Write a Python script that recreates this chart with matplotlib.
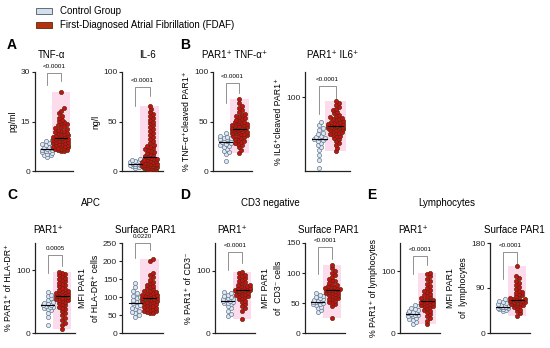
# Cytokine / PAR1 dot plots: control group vs first-diagnosed AF
import numpy as np
import matplotlib
matplotlib.use('Agg')
import matplotlib.pyplot as plt
from matplotlib.patches import Rectangle
import matplotlib.transforms as mtransforms

plt.rcParams['font.family'] = ['Liberation Sans', 'DejaVu Sans']

# ---- data ----
tnf_ctrl = [4.2, 4.8, 5.0, 5.3, 5.6, 5.8, 6.0, 6.2, 6.4, 6.5, 6.7, 6.9, 7.1, 7.3, 7.6, 7.9, 8.2, 8.6, 9.0, 9.4]
tnf_fdaf = [6.0, 6.2, 6.3, 6.5, 6.6, 6.8, 7.0, 7.1, 7.2, 7.4, 7.5, 7.7, 7.8, 8.0, 8.1, 8.3, 8.4, 8.6, 8.7, 8.9,
            9.0, 9.2, 9.3, 9.5, 9.6, 9.8, 9.9, 10.1, 10.2, 10.4, 10.6, 10.8, 11.0, 11.2, 11.4, 11.6, 11.8, 12.0,
            12.2, 12.4, 12.7, 12.9, 13.2, 13.5, 13.8, 14.1, 14.4, 14.8, 15.2, 15.6, 16.2, 16.8, 17.5, 18.3, 19.0, 24.0]

il6_ctrl = [3.5, 4.5, 5, 5.5, 6, 6.3, 6.6, 7, 7.2, 7.5, 7.8, 8.2, 8.6, 9, 9.5, 10, 10.5, 11, 12]
il6_fdaf = [1.5, 2, 2.2, 2.5, 3, 3.2, 3.5, 4, 4.2, 4.5, 5, 5.2, 5.5, 6, 6.2, 6.5, 7, 7.2, 7.5, 8, 8.5, 9, 9.5,
            10, 10.5, 11, 11.5, 12, 12.5, 13, 14, 15, 16, 17, 18, 19, 20, 21, 22, 23, 24, 25, 26, 28, 30, 32,
            34, 36, 38, 40, 42, 44, 46, 48, 50, 52, 54, 56, 58, 60, 63, 66]

tnfpar_ctrl = [10, 17, 19, 20, 22, 24, 25, 26, 27, 28, 29, 30, 31, 31, 32, 32, 33, 33, 34, 35, 38]
tnfpar_fdaf = [18, 21, 24, 26, 27, 28, 29, 30, 31, 32, 33, 34, 35, 35, 36, 37, 37, 38, 38, 39, 39, 40, 40, 41,
               41, 42, 42, 42, 43, 43, 44, 44, 45, 45, 46, 46, 47, 48, 48, 49, 50, 51, 52, 53, 54, 55, 56, 57,
               58, 60, 62, 64, 66, 69, 73]

il6par_ctrl = [4, 15, 22, 28, 32, 35, 38, 40, 42, 43, 44, 45, 46, 48, 50, 52, 55, 58, 62, 66]
il6par_fdaf = [27, 31, 35, 38, 41, 43, 45, 47, 48, 49, 50, 51, 52, 53, 54, 55, 56, 57, 57, 58, 58, 59, 59, 60,
               60, 61, 61, 62, 62, 63, 63, 64, 64, 65, 66, 67, 68, 69, 70, 71, 72, 73, 74, 76, 78, 80, 82, 84,
               86, 89, 92, 95]

apc_pct_ctrl = [13, 25, 32, 36, 38, 40, 41, 42, 43, 44, 45, 46, 48, 50, 52, 55, 58, 61, 65]
apc_pct_fdaf = [6, 12, 16, 20, 24, 28, 32, 35, 38, 40, 42, 44, 46, 48, 50, 51, 52, 53, 54, 55, 56, 57, 58, 59,
                60, 61, 62, 63, 64, 65, 66, 67, 68, 70, 72, 74, 76, 78, 80, 82, 84, 86, 88, 90, 92, 94, 95, 97]

apc_mfi_ctrl = [45, 50, 55, 58, 62, 66, 70, 75, 78, 82, 85, 88, 92, 96, 100, 104, 110, 118, 128, 140]
apc_mfi_fdaf = [55, 56, 58, 60, 62, 64, 66, 68, 70, 72, 74, 76, 78, 80, 82, 84, 85, 86, 88, 90, 92, 94, 95, 96,
                97, 98, 100, 101, 102, 104, 105, 106, 108, 110, 112, 114, 116, 118, 121, 124, 127, 130, 134,
                138, 142, 148, 155, 162, 168, 200, 205]

cd3_pct_ctrl = [27, 30, 36, 40, 44, 46, 48, 49, 50, 51, 52, 53, 54, 55, 56, 58, 60, 62, 64, 66]
cd3_pct_fdaf = [22, 36, 40, 44, 47, 50, 52, 54, 56, 58, 59, 60, 61, 62, 63, 64, 65, 66, 67, 68, 68, 69, 70, 70,
                71, 72, 73, 74, 75, 76, 77, 78, 80, 82, 84, 86, 88, 90, 92, 94, 96, 98]

cd3_mfi_ctrl = [35, 38, 41, 44, 46, 48, 49, 50, 51, 52, 53, 54, 55, 56, 58, 60, 62, 64, 66]
cd3_mfi_fdaf = [25, 45, 48, 50, 52, 54, 56, 57, 58, 60, 62, 63, 64, 65, 66, 67, 68, 69, 70, 71, 72, 72, 73, 74,
                75, 76, 77, 78, 80, 82, 84, 86, 88, 90, 93, 96, 100, 104, 108, 113]

lym_pct_ctrl = [15, 18, 21, 23, 25, 27, 28, 29, 30, 31, 32, 33, 34, 35, 37, 39, 41, 43, 45]
lym_pct_fdaf = [14, 20, 24, 28, 31, 34, 36, 38, 40, 42, 43, 44, 45, 46, 47, 48, 49, 50, 51, 52, 53, 54, 55, 56,
                58, 60, 62, 64, 66, 68, 70, 73, 76, 80, 84, 88, 92, 95, 97]

lym_mfi_ctrl = [44, 46, 48, 49, 50, 51, 52, 52, 53, 53, 54, 55, 56, 57, 58, 60, 62, 65, 68]
lym_mfi_fdaf = [35, 40, 44, 47, 50, 52, 54, 56, 57, 58, 59, 60, 61, 62, 63, 64, 65, 66, 67, 68, 69, 70, 72, 74,
                76, 78, 80, 82, 85, 88, 92, 96, 100, 105, 110, 115, 135]

p_values = ['<0.0001', '<0.0001', '<0.0001', '<0.0001', '0.0005', '0.0220',
            '<0.0001', '<0.0001', '<0.0001', '<0.0001']

W, H = 550, 348
fig = plt.figure(figsize=(W / 100, H / 100), dpi=100)

CTRL_FACE, CTRL_EDGE = '#dfe8f3', '#66788f'
FDAF_FACE, FDAF_EDGE = '#c8101a', '#5b2c06'
BAND = '#fcdcec'


def px_axes(x0, yt, x1, yb):
    return fig.add_axes([x0 / W, 1 - yb / H, (x1 - x0) / W, (yb - yt) / H])


def swarm_offsets(ax, vals, d, max_px):
    # beeswarm in pixel space, capped at +-max_px; returned as x offsets in data units
    tr = ax.transData.transform
    ppu = tr((1, 0))[0] - tr((0, 0))[0]
    ys = tr(np.column_stack([np.zeros(len(vals)), vals]))[:, 1]
    step = d * 0.5
    cands = [0.0]
    k = 1
    while k * step <= max_px:
        cands += [k * step, -k * step]
        k += 1
    placed = []
    xs = np.zeros(len(vals))
    for i in np.argsort(ys):
        y = ys[i]
        near = [(px, py) for px, py in placed if abs(py - y) < d]
        best, best_gap = 0.0, -1
        for cx in cands:
            gap = min([np.hypot(cx - px, y - py) for px, py in near] or [99])
            if gap >= d:
                best = cx
                break
            if gap > best_gap:
                best, best_gap = cx, gap
        placed.append((best, y))
        xs[i] = best / ppu
    return xs


def dot_panel(box, ctrl, fdaf, ylim, yticks, ylabel, pval, bracket):
    ax = px_axes(*box)
    ax.set_xlim(-0.9, 1.9)
    ax.set_ylim(*ylim)
    ctrl = np.asarray(ctrl, float)
    fdaf = np.asarray(fdaf, float)

    ax.add_patch(Rectangle((1 - 0.65, fdaf.min()), 1.3, fdaf.max() - fdaf.min(),
                           facecolor=BAND, lw=0, zorder=0))
    ax.scatter(swarm_offsets(ax, ctrl, 3.4, 6.5), ctrl, s=9, facecolor=CTRL_FACE,
               edgecolor=CTRL_EDGE, lw=0.5, zorder=3)
    ax.scatter(1 + swarm_offsets(ax, fdaf, 3.0, 7.5), fdaf, s=9, facecolor=FDAF_FACE,
               edgecolor=FDAF_EDGE, lw=0.5, zorder=3)
    for xc, v in ((0, ctrl), (1, fdaf)):
        m = np.median(v)
        ax.plot([xc - 0.45, xc + 0.45], [m, m], color='k', lw=0.8, zorder=4)

    # significance bracket (y in axes fraction)
    top, lleg, rleg = bracket
    tr = mtransforms.blended_transform_factory(ax.transData, ax.transAxes)
    ax.plot([0, 0, 1, 1], [top - lleg, top, top, top - rleg], transform=tr,
            color='#666666', lw=0.5, clip_on=False)
    ax.text(0.5, top + 0.04, pval, transform=tr, ha='center', va='bottom', fontsize=4.5)

    for s in ('top', 'right'):
        ax.spines[s].set_visible(False)
    for s in ('left', 'bottom'):
        ax.spines[s].set_linewidth(0.9)
        ax.spines[s].set_color('#222222')
    ax.set_xticks([])
    ax.set_yticks(yticks)
    ax.tick_params(axis='y', length=2.5, width=0.8, labelsize=6, pad=1, colors='#222222')
    ax.set_ylabel(ylabel, fontsize=6.3, labelpad=2, linespacing=1.6)
    return ax


r1, r2 = (72, 171), (243, 333)

dot_panel((35, r1[0], 73, r1[1]), tnf_ctrl, tnf_fdaf, (0, 30), [0, 15, 30], 'pg/ml',
          p_values[0], (0.99, 0.12, 0.08))
dot_panel((122, r1[0], 163, r1[1]), il6_ctrl, il6_fdaf, (0, 100), [0, 50, 100], 'ng/l',
          p_values[1], (0.85, 0.19, 0.09))
dot_panel((213, r1[0], 252, r1[1]), tnfpar_ctrl, tnfpar_fdaf, (0, 100), [0, 50, 100],
          '% TNF-α⁺cleaved PAR1⁺', p_values[2], (0.89, 0.2, 0.1))
dot_panel((305, r1[0], 350, r1[1]), il6par_ctrl, il6par_fdaf, (0, 134), [100],
          '% IL6⁺cleaved PAR1⁺', p_values[3], (0.86, 0.28, 0.13))

dot_panel((35, r2[0], 75, r2[1]), apc_pct_ctrl, apc_pct_fdaf, (0, 143), [0, 100],
          '% PAR1⁺ of HLA-DR⁺', p_values[4], (0.87, 0.2, 0.13))
dot_panel((122, r2[0], 163, r2[1]), apc_mfi_ctrl, apc_mfi_fdaf, (0, 250), [0, 50, 100, 150, 200, 250],
          'MFI PAR1\nof HLA-DR⁺ cells', p_values[5], (1.0, 0.17, 0.08))
dot_panel((215, r2[0], 255, r2[1]), cd3_pct_ctrl, cd3_pct_fdaf, (0, 145), [0, 100],
          '% PAR1⁺ of CD3⁻', p_values[6], (0.9, 0.2, 0.12))
dot_panel((305, r2[0], 345, r2[1]), cd3_mfi_ctrl, cd3_mfi_fdaf, (0, 150), [0, 50, 100, 150],
          'MFI PAR1\nof  CD3⁻ cells', p_values[7], (0.96, 0.3, 0.14))
dot_panel((400, r2[0], 440, r2[1]), lym_pct_ctrl, lym_pct_fdaf, (0, 146), [0, 100],
          '% PAR1⁺ of lymphocytes', p_values[8], (0.86, 0.2, 0.1))
dot_panel((490, r2[0], 530, r2[1]), lym_mfi_ctrl, lym_mfi_fdaf, (0, 180), [0, 90, 180],
          'MFI PAR1\nof  lymphocytes', p_values[9], (0.9, 0.3, 0.17))


def ftext(x, y, s, **kw):
    fig.text(x / W, 1 - y / H, s, **kw)


# panel titles
for x, y, s in [(52, 55, 'TNF-α'), (148, 55, 'IL-6'), (235, 55, 'PAR1⁺ TNF-α⁺'), (333, 55, 'PAR1⁺ IL6⁺'),
                (48, 230, 'PAR1⁺'), (145, 230, 'Surface PAR1'), (232, 230, 'PAR1⁺'),
                (328, 230, 'Surface PAR1'), (413, 230, 'PAR1⁺'), (514, 230, 'Surface PAR1')]:
    ftext(x, y, s, ha='center', va='center', fontsize=7)

for x, s in [(91, 'APC'), (270, 'CD3 negative'), (447, 'Lymphocytes')]:
    ftext(x, 203, s, ha='center', va='center', fontsize=7)

for x, y, s in [(12, 45, 'A'), (185, 45, 'B'), (12, 195, 'C'), (185, 195, 'D'), (372, 195, 'E')]:
    ftext(x, y, s, ha='center', va='center', fontsize=10, fontweight='bold')

# legend
fig.add_artist(Rectangle((36 / W, 1 - 14 / H), 16 / W, 6.5 / H, transform=fig.transFigure,
                         facecolor='#cfe0f3', edgecolor='#555555', lw=0.6))
fig.add_artist(Rectangle((36 / W, 1 - 28.3 / H), 16 / W, 6.5 / H, transform=fig.transFigure,
                         facecolor='#b8300e', edgecolor='#5a2a10', lw=0.6))
ftext(60, 10.5, 'Control Group', va='center', fontsize=7)
ftext(60, 24.5, 'First-Diagnosed Atrial Fibrillation (FDAF)', va='center', fontsize=7)

fig.savefig('out.png', dpi=100)
